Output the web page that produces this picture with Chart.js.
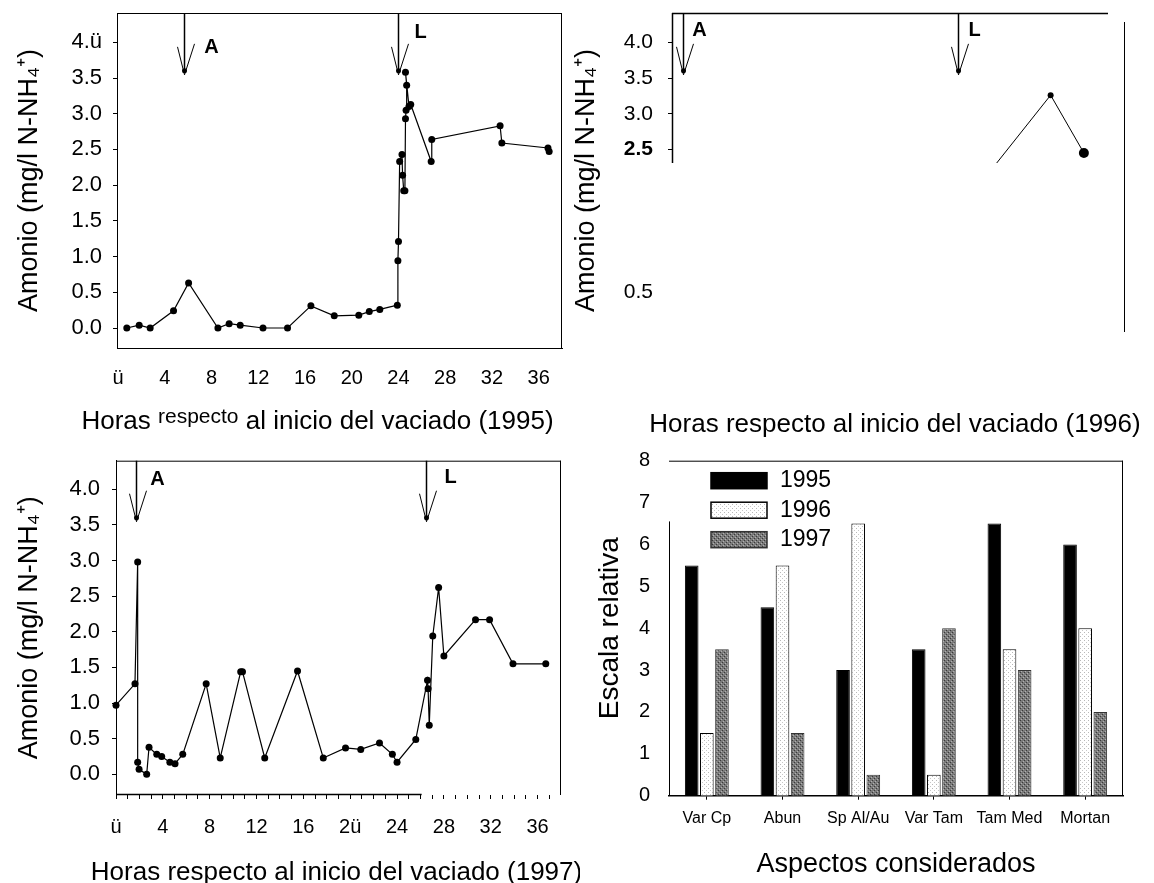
<!DOCTYPE html>
<html>
<head>
<meta charset="utf-8">
<script src="https://cdn.jsdelivr.net/npm/chart.js@4.4.1/dist/chart.umd.min.js"></script>
<style>
  html, body { margin: 0; padding: 0; background: #fff; overflow: hidden; }
  #wrap { position: relative; width: 1154px; height: 883px; }
  canvas { position: absolute; }
</style>
</head>
<body>
<div id="wrap">
  <canvas id="c1995" style="left:0;top:0" width="580" height="440"></canvas>
  <canvas id="c1996" style="left:560px;top:0" width="594" height="440"></canvas>
  <canvas id="c1997" style="left:0;top:440px" width="580" height="448"></canvas>
  <canvas id="cBars" style="left:580px;top:440px" width="574" height="443"></canvas>
</div>
<script>
// ---- data ----
const hours1995 = [0.74, 1.8, 2.74, 4.74, 6.03, 8.54, 9.5, 10.45, 12.4, 14.5, 16.5, 18.5, 20.6, 21.5, 22.4,
  23.9, 23.95, 24.0, 24.1, 24.3, 24.35, 24.45, 24.55, 24.6, 24.65, 24.7, 24.6, 24.9, 25.05, 26.8, 26.85,
  32.7, 32.85, 36.8, 36.9];
const amonio1995 = [0.0, 0.04, 0.0, 0.24, 0.63, 0.0, 0.06, 0.04, 0.0, 0.0, 0.31, 0.17, 0.18, 0.23, 0.26,
  0.32, 0.94, 1.21, 2.33, 2.43, 2.14, 1.92, 1.92, 2.93, 3.05, 3.40, 3.58, 3.10, 3.13, 2.33, 2.64,
  2.83, 2.59, 2.52, 2.47];

const hours1996 = [28.3, 33.0, 35.9];
const amonio1996 = [2.31, 3.26, 2.45];

const hours1997 = [0.0, 1.62, 1.85, 1.85, 1.97, 2.62, 2.82, 3.48, 3.9, 4.6, 5.04, 5.7, 7.7, 8.9, 10.65,
  10.8, 12.7, 15.5, 17.7, 19.6, 20.9, 22.5, 23.6, 24.0, 25.6, 26.6, 26.65, 26.75, 27.05, 27.55,
  28.0, 30.7, 31.9, 33.9, 36.7];
const amonio1997 = [0.97, 1.27, 2.98, 0.17, 0.07, 0.0, 0.38, 0.28, 0.25, 0.17, 0.15, 0.28, 1.27, 0.23, 1.44,
  1.44, 0.23, 1.45, 0.23, 0.37, 0.35, 0.44, 0.28, 0.17, 0.49, 1.32, 1.2, 0.69, 1.94, 2.62,
  1.66, 2.17, 2.17, 1.55, 1.55];

// arrows A / L (hours)
const arrowLabels = ['A', 'L'];
const arrowHours1995 = [5.66, 24.0];
const arrowHours1996 = [0.96, 24.9];
const arrowHours1997 = [1.7, 26.5];
const arrowTipValue = 3.6;

const xTickValues = [0, 4, 8, 12, 16, 20, 24, 28, 32, 36];
const xTickLabels1995 = ['ü', '4', '8', '12', '16', '20', '24', '28', '32', '36'];
const xTickLabels1997 = ['ü', '4', '8', '12', '16', '2ü', '24', '28', '32', '36'];
const yTickValues = [0, 0.5, 1.0, 1.5, 2.0, 2.5, 3.0, 3.5, 4.0];
const yTickLabels1995 = ['0.0', '0.5', '1.0', '1.5', '2.0', '2.5', '3.0', '3.5', '4.ü'];
const yTickLabels1997 = ['0.0', '0.5', '1.0', '1.5', '2.0', '2.5', '3.0', '3.5', '4.0'];
const yTickValues1996 = [0.5, 2.5, 3.0, 3.5, 4.0];
const yTickLabels1996 = ['0.5', '2.5', '3.0', '3.5', '4.0'];

const aspects = ['Var Cp', 'Abun', 'Sp Al/Au', 'Var Tam', 'Tam Med', 'Mortan'];
const years = ['1995', '1996', '1997'];
const escala1995 = [5.5, 4.5, 3.0, 3.5, 6.5, 6.0];
const escala1996 = [1.5, 5.5, 6.5, 0.5, 3.5, 4.0];
const escala1997 = [3.5, 1.5, 0.5, 4.0, 3.0, 2.0];

const yTitle = 'Amonio (mg/l N-NH\u2084\u207A)';
// x titles: [text, font size, rise]
const xTitle1995 = [['Horas ', 26, 0], ['respecto', 21, 5], [' al inicio del vaciado (1995)', 26, 0]];
const xTitle1996 = [['Horas respecto al inicio del vaciado (1996)', 26, 0]];
const xTitle1997 = [['Horas respecto al inicio del vaciado (1997)', 26, 0]];

const FONT = '"Liberation Sans", Arial, sans-serif';
Chart.defaults.font.family = FONT;
Chart.defaults.color = '#000';
Chart.defaults.animation = false;

const pts = (xs, ys) => xs.map((x, i) => ({ x, y: ys[i] }));

// pin the size of a scale box and drop the label overflow padding
function pin(prop, size) {
  return s => {
    s[prop] = size;
    s.paddingTop = 0; s.paddingBottom = 0; s.paddingLeft = 0; s.paddingRight = 0;
  };
}

function drawBox(chart, sides) {
  const { ctx, chartArea: a } = chart;
  ctx.save();
  ctx.strokeStyle = '#000';
  ctx.lineWidth = 1;
  ctx.beginPath();
  if (sides.includes('top')) { ctx.moveTo(a.left, a.top + 0.5); ctx.lineTo(a.right, a.top + 0.5); }
  if (sides.includes('right')) { ctx.moveTo(a.right - 0.5, a.top); ctx.lineTo(a.right - 0.5, a.bottom); }
  ctx.stroke();
  ctx.restore();
}

// bottom axis title, free of the chart-area width limit
function drawXTitle(chart, parts, dx, dy) {
  const { ctx, chartArea: a } = chart;
  ctx.save();
  ctx.fillStyle = '#000';
  ctx.textBaseline = 'middle';
  ctx.textAlign = 'left';
  const widths = parts.map(([t, size]) => { ctx.font = size + 'px ' + FONT; return ctx.measureText(t).width; });
  const total = widths.reduce((s, w) => s + w, 0);
  let x = (a.left + a.right) / 2 + dx - total / 2;
  parts.forEach(([t, size, rise], i) => {
    ctx.font = size + 'px ' + FONT;
    ctx.fillText(t, x, a.bottom + dy - rise);
    x += widths[i];
  });
  ctx.restore();
}

function drawArrows(chart, hours, labelDx, labelDy) {
  const { ctx, chartArea: a, scales } = chart;
  const tip = scales.y.getPixelForValue(arrowTipValue);
  ctx.save();
  ctx.strokeStyle = '#000';
  ctx.fillStyle = '#000';
  hours.forEach((h, i) => {
    const px = Math.round(scales.x.getPixelForValue(h)) + 0.5;
    ctx.lineWidth = 1.5;
    ctx.beginPath();
    ctx.moveTo(px, a.top);
    ctx.lineTo(px, tip + 2);
    ctx.stroke();
    ctx.lineWidth = 1;
    ctx.beginPath();
    ctx.moveTo(px - 7, tip - 24);
    ctx.lineTo(px, tip + 4);
    ctx.lineTo(px + 10, tip - 27);
    ctx.stroke();
    ctx.beginPath();
    ctx.arc(px, tip, 2.5, 0, Math.PI * 2);
    ctx.fill();
    ctx.font = 'bold 20px ' + FONT;
    ctx.textAlign = 'center';
    ctx.textBaseline = 'middle';
    ctx.fillText(arrowLabels[i], px + labelDx[i], a.top + labelDy[i]);
  });
  ctx.restore();
}

function lineDataset(xs, ys, radius) {
  return {
    data: pts(xs, ys),
    borderColor: '#000',
    backgroundColor: '#000',
    borderWidth: 1.2,
    pointRadius: radius,
    pointBorderWidth: 0,
    pointBackgroundColor: '#000',
    tension: 0,
    clip: false
  };
}

function fixedTicks(values) {
  return scale => { scale.ticks = values.map(v => ({ value: v })); };
}

// ---------- 1995 ----------
new Chart(document.getElementById('c1995'), {
  type: 'line',
  data: { datasets: [lineDataset(hours1995, amonio1995, 3.5)] },
  options: {
    responsive: false,
    layout: { padding: { top: 13, right: 18, left: 0, bottom: 0 } },
    plugins: { legend: { display: false }, tooltip: { enabled: false } },
    scales: {
      x: {
        type: 'linear', min: -0.1, max: 38,
        afterBuildTicks: fixedTicks(xTickValues),
        afterFit: pin('height', 92),
        grid: { display: false, drawTicks: false },
        border: { display: true, color: '#000', width: 1 },
        ticks: { padding: 18, font: { size: 20 }, callback: (v, i) => xTickLabels1995[i] }
      },
      y: {
        min: -0.28, max: 4.41,
        afterBuildTicks: fixedTicks(yTickValues),
        afterFit: pin('width', 117),
        grid: { drawOnChartArea: false, drawTicks: true, tickLength: 4, color: '#000' },
        border: { display: true, color: '#000', width: 1 },
        ticks: { padding: 11, font: { size: 22 }, callback: (v, i) => yTickLabels1995[i] },
        title: { display: true, text: yTitle, font: { size: 27 }, padding: { top: 13.8, bottom: 0 } }
      }
    }
  },
  plugins: [{
    id: 'deco1995',
    afterDraw(chart) {
      drawBox(chart, ['top', 'right']);
      drawArrows(chart, arrowHours1995, [27, 22], [34, 19]);
      drawXTitle(chart, xTitle1995, -22, 74);
    }
  }]
});

// ---------- 1996 ----------
new Chart(document.getElementById('c1996'), {
  type: 'line',
  data: { datasets: [Object.assign(lineDataset(hours1996, amonio1996, [0, 3, 5]), { borderWidth: 1 })] },
  options: {
    responsive: false,
    layout: { padding: { top: 13, right: 46, left: 0, bottom: 0 } },
    plugins: { legend: { display: false }, tooltip: { enabled: false } },
    scales: {
      x: {
        type: 'linear', min: 0, max: 38,
        afterFit: pin('height', 92),
        grid: { display: false, drawTicks: false },
        border: { display: false },
        ticks: { display: false }
      },
      y: {
        min: -0.28, max: 4.41,
        afterBuildTicks: fixedTicks(yTickValues1996),
        afterFit: pin('width', 112),
        grid: {
          drawOnChartArea: false, drawTicks: true, tickLength: 4,
          tickColor: c => (c.tick && c.tick.value < 1 ? 'rgba(0,0,0,0)' : '#000')
        },
        border: { display: false },
        ticks: {
          padding: 15,
          font: c => ({ size: 21, weight: c.tick && c.tick.value === 2.5 ? 'bold' : 'normal' }),
          callback: (v, i) => yTickLabels1996[i]
        },
        title: { display: true, text: yTitle, font: { size: 27 }, padding: { top: 10.8, bottom: 0 } }
      }
    }
  },
  plugins: [{
    id: 'deco1996',
    afterDraw(chart) {
      const { ctx, chartArea: a, scales } = chart;
      ctx.save();
      ctx.strokeStyle = '#000';
      ctx.lineWidth = 1.5;
      ctx.beginPath();
      ctx.moveTo(a.left, a.top + 0.5); ctx.lineTo(a.right, a.top + 0.5);
      ctx.moveTo(a.left + 0.5, a.top); ctx.lineTo(a.left + 0.5, scales.y.getPixelForValue(2.31));
      ctx.stroke();
      ctx.lineWidth = 1;
      ctx.beginPath();
      ctx.moveTo(a.right + 16.5, a.top + 9); ctx.lineTo(a.right + 16.5, a.bottom - 16);
      ctx.stroke();
      ctx.restore();
      drawArrows(chart, arrowHours1996, [16, 16], [17, 17]);
      drawXTitle(chart, xTitle1996, 5, 77);
    }
  }]
});

// ---------- 1997 ----------
new Chart(document.getElementById('c1997'), {
  type: 'line',
  data: { datasets: [lineDataset(hours1997, amonio1997, 3.5)] },
  options: {
    responsive: false,
    layout: { padding: { top: 20.7, right: 19, left: 0, bottom: 0 } },
    plugins: { legend: { display: false }, tooltip: { enabled: false } },
    scales: {
      x: {
        type: 'linear', min: 0, max: 38,
        afterBuildTicks: s => { s.ticks = []; for (let h = 0; h <= 37; h++) s.ticks.push({ value: h }); },
        afterFit: pin('height', 93),
        grid: { drawOnChartArea: false, drawTicks: true, tickLength: 4, color: '#000' },
        border: { display: false },
        ticks: {
          padding: 16, autoSkip: false, maxRotation: 0, font: { size: 20 },
          callback: v => (xTickValues.includes(v) ? xTickLabels1997[xTickValues.indexOf(v)] : '')
        }
      },
      y: {
        min: -0.29, max: 4.40,
        afterBuildTicks: fixedTicks(yTickValues),
        afterFit: pin('width', 116),
        grid: { drawOnChartArea: false, drawTicks: true, tickLength: 4, color: '#000' },
        border: { display: true, color: '#000', width: 1 },
        ticks: { padding: 12, font: { size: 22 }, callback: (v, i) => yTickLabels1997[i] },
        title: { display: true, text: yTitle, font: { size: 27 }, padding: { top: 13.8, bottom: 0 } }
      }
    }
  },
  plugins: [{
    id: 'deco1997',
    afterDraw(chart) {
      const { ctx, chartArea: a, scales } = chart;
      drawBox(chart, ['top', 'right']);
      ctx.save();
      ctx.strokeStyle = '#000';
      ctx.lineWidth = 1.5;
      ctx.beginPath();
      ctx.moveTo(a.left, a.bottom - 0.5); ctx.lineTo(scales.x.getPixelForValue(26.1), a.bottom - 0.5);
      ctx.stroke();
      ctx.restore();
      drawArrows(chart, arrowHours1997, [21, 24], [19, 17]);
      drawXTitle(chart, xTitle1997, -2, 78);
    }
  }]
});

// ---------- bars ----------
const barCanvas = document.getElementById('cBars');
const bctx = barCanvas.getContext('2d');
function makePattern(bg, dots) {
  const c = document.createElement('canvas');
  c.width = 4; c.height = 4;
  const g = c.getContext('2d');
  g.fillStyle = bg; g.fillRect(0, 0, 4, 4);
  dots.forEach(([x, y, col]) => { g.fillStyle = col; g.fillRect(x, y, 1, 1); });
  return bctx.createPattern(c, 'repeat');
}
const fill1996 = makePattern('#ffffff', [[0, 0, '#b8b8b8'], [2, 2, '#c8c8c8']]);
const fill1997 = makePattern('#7a7a7a', [[0, 0, '#3a3a3a'], [2, 2, '#3a3a3a'], [1, 3, '#b0b0b0'], [3, 1, '#b0b0b0']]);
const barFills = ['#000000', fill1996, fill1997];
const barBorders = ['#000000', '#000000', '#333333'];

new Chart(barCanvas, {
  type: 'bar',
  data: {
    labels: aspects,
    datasets: [escala1995, escala1996, escala1997].map((d, i) => ({
      label: years[i],
      data: d,
      backgroundColor: barFills[i],
      borderColor: barBorders[i],
      borderWidth: 1,
      categoryPercentage: 0.6,
      barPercentage: 0.9
    }))
  },
  options: {
    responsive: false,
    layout: { padding: { top: 20.7, right: 31, left: 0, bottom: 0 } },
    plugins: { legend: { display: false }, tooltip: { enabled: false } },
    scales: {
      x: {
        afterFit: pin('height', 87.3),
        grid: { offset: false, drawOnChartArea: false, drawTicks: true, tickLength: 4, color: '#000' },
        border: { display: true, color: '#000', width: 1.5 },
        ticks: { padding: 9, maxRotation: 0, autoSkip: false, font: { size: 16 } },
        title: { display: true, text: 'Aspectos considerados', font: { size: 27 }, padding: { top: 0, bottom: 1.8 } }
      },
      y: {
        min: 0, max: 8,
        afterFit: pin('width', 89),
        grid: { display: false, drawTicks: false },
        border: { display: false },
        ticks: { stepSize: 1, padding: 19, font: { size: 20 } },
        title: { display: true, text: 'Escala relativa', font: { size: 28 }, padding: { top: 13.2, bottom: 0 } }
      }
    }
  },
  plugins: [{
    id: 'decoBars',
    afterDraw(chart) {
      const { ctx, chartArea: a, scales } = chart;
      drawBox(chart, ['top', 'right']);
      ctx.save();
      ctx.strokeStyle = '#000';
      ctx.lineWidth = 1;
      ctx.beginPath();
      ctx.moveTo(a.left + 0.5, scales.y.getPixelForValue(6.55));
      ctx.lineTo(a.left + 0.5, a.bottom);
      ctx.stroke();
      // legend
      ctx.font = '23px ' + FONT;
      ctx.textBaseline = 'middle';
      ctx.textAlign = 'left';
      chart.data.datasets.forEach((ds, i) => {
        const y = a.top + 12 + i * 29.5;
        ctx.fillStyle = ds.backgroundColor;
        ctx.fillRect(a.left + 42, y, 56, 16);
        ctx.lineWidth = 1.5;
        ctx.strokeStyle = ds.borderColor;
        ctx.strokeRect(a.left + 42, y, 56, 16);
        ctx.fillStyle = '#000';
        ctx.fillText(ds.label, a.left + 111, y + 8);
      });
      ctx.restore();
    }
  }]
});
</script>
</body>
</html>
